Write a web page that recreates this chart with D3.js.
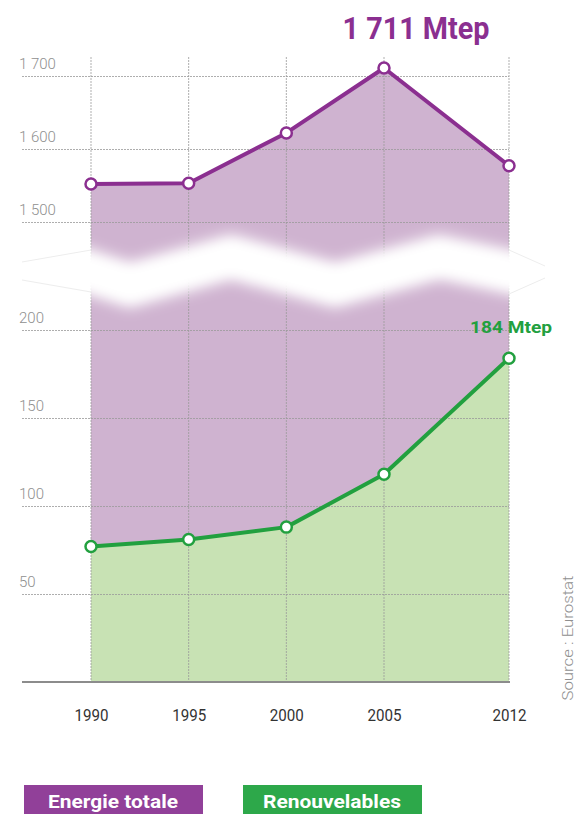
<!DOCTYPE html>
<html>
<head>
<meta charset="utf-8">
<script src="https://cdn.jsdelivr.net/npm/d3@7"></script>
<style>
  body { margin: 0; background: #fff; }
  svg text { font-family: "Roboto", "Liberation Sans", sans-serif; }
</style>
</head>
<body>
<div id="chart"></div>
<script>
// data (Mtep)
var years = [1990, 1995, 2000, 2005, 2012];
var totalValues = [1552, 1553, 1622, 1711, 1577];
var renewValues = [77, 81, 88, 118, 184];
var topTicks = [1500, 1600, 1700];
var lowTicks = [50, 100, 150, 200];
var legendLabels = ["Energie totale", "Renouvelables"];

var W = 578, H = 814;
var purple = "#8b2f90", purpleArea = "#cfb3d0", purpleBox = "#914099";
var green = "#22a03f", greenArea = "#c8e2b4", greenBox = "#2da84a";

var svg = d3.select("#chart")
  .append("svg")
    .attr("width", W)
    .attr("height", H);

var defs = svg.append("defs");
defs.append("filter")
    .attr("id", "soft")
    .attr("filterUnits", "userSpaceOnUse")
    .attr("x", 0).attr("y", 150)
    .attr("width", W).attr("height", 250)
  .append("feGaussianBlur")
    .attr("stdDeviation", 7);

// x: years are not evenly spaced in the original, so a piecewise scale
var x = d3.scaleLinear()
  .domain([1990, 2005, 2012])
  .range([91, 384, 509]);

// two y scales around the axis break
var yTop = d3.scaleLinear().domain([1500, 1700]).range([222, 76]);
var yLow = d3.scaleLinear().domain([0, 200]).range([682, 330]);

var data = years.map(function(y, i) {
  return {year: y, total: totalValues[i], renew: renewValues[i]};
});

var fmt = function(d) { return d3.format(",")(d).replace(/,/g, " "); };

// purple area (total)
svg.append("path")
  .datum(data)
  .attr("fill", purpleArea)
  .attr("d", d3.area()
    .x(function(d) { return x(d.year); })
    .y0(yLow(0))
    .y1(function(d) { return yTop(d.total); }));

// green area (renewables)
svg.append("path")
  .datum(data)
  .attr("fill", greenArea)
  .attr("d", d3.area()
    .x(function(d) { return x(d.year); })
    .y0(yLow(0))
    .y1(function(d) { return yLow(d.renew); }));

// horizontal grid + labels
function yAxis(scale, ticks) {
  var g = svg.append("g")
    .attr("transform", "translate(22,0)")
    .call(d3.axisLeft(scale)
      .tickValues(ticks)
      .tickSize(-(x(2012) - 22))
      .tickFormat(fmt));
  g.select(".domain").remove();
  g.selectAll("line")
    .attr("stroke", "#9a9a9a")
    .attr("stroke-width", 1)
    .attr("stroke-dasharray", "2,1")
    .attr("opacity", 0.8);
  g.selectAll("text")
    .attr("x", -3)
    .attr("dy", "-0.5em")
    .attr("text-anchor", "start")
    .attr("fill", "#8f8f8f")
    .style("font-size", "15px")
    .style("font-weight", "300");
}
yAxis(yTop, topTicks);
yAxis(yLow, lowTicks);

// vertical grid
svg.append("g")
  .selectAll("line")
  .data(years)
  .enter()
  .append("line")
    .attr("x1", function(d) { return x(d); })
    .attr("x2", function(d) { return x(d); })
    .attr("y1", 57)
    .attr("y2", yLow(0))
    .attr("stroke", "#9a9a9a")
    .attr("stroke-dasharray", "2,1")
    .attr("opacity", 0.8);

// axis break: blurred white zig-zag band
var wave = [[70, 266], [130, 285], [231, 257], [335, 285], [439, 257], [530, 276]];
svg.append("path")
  .attr("d", d3.line()(wave))
  .attr("fill", "none")
  .attr("stroke", "#fff")
  .attr("stroke-width", 44)
  .attr("filter", "url(#soft)");
svg.append("path")
  .attr("d", d3.line()(wave))
  .attr("fill", "none")
  .attr("stroke", "#fff")
  .attr("stroke-width", 18)
  .attr("filter", "url(#soft)");
// cover the overflow beyond the plot
svg.append("rect").attr("x", 0).attr("y", 226).attr("width", 90).attr("height", 80).attr("fill", "#fff");
svg.append("rect").attr("x", 510).attr("y", 226).attr("width", 68).attr("height", 80).attr("fill", "#fff");
// faint outline beyond the plot
[[[22, 262], [91, 250]], [[22, 280], [91, 292]], [[509, 250], [545, 266]], [[509, 294], [545, 278]]].forEach(function(p) {
  svg.append("path")
    .attr("d", d3.line()(p))
    .attr("stroke", "#ededed")
    .attr("fill", "none");
});

// baseline
svg.append("line")
  .attr("x1", 22).attr("x2", x(2012) + 1)
  .attr("y1", yLow(0)).attr("y2", yLow(0))
  .attr("stroke", "#8c8c8c")
  .attr("stroke-width", 2);

// x axis labels
var xg = svg.append("g")
  .attr("transform", "translate(0," + yLow(0) + ")")
  .call(d3.axisBottom(x).tickValues(years).tickSize(0).tickPadding(28).tickFormat(d3.format("d")));
xg.select(".domain").remove();
xg.selectAll("text")
  .attr("fill", "#333")
  .attr("textLength", 34)
  .attr("lengthAdjust", "spacingAndGlyphs")
  .style("font-size", "16px");

// lines + markers
function series(key, scale, color) {
  svg.append("path")
    .datum(data)
    .attr("fill", "none")
    .attr("stroke", color)
    .attr("stroke-width", 4)
    .attr("stroke-linejoin", "round")
    .attr("d", d3.line()
      .x(function(d) { return x(d.year); })
      .y(function(d) { return scale(d[key]); }));
  svg.append("g")
    .selectAll("circle")
    .data(data)
    .enter()
    .append("circle")
      .attr("cx", function(d) { return x(d.year); })
      .attr("cy", function(d) { return scale(d[key]); })
      .attr("r", 5.5)
      .attr("fill", "#fff")
      .attr("stroke", color)
      .attr("stroke-width", 2.5);
}
series("total", yTop, purple);
series("renew", yLow, green);

// annotations
svg.append("text")
  .attr("x", 416)
  .attr("y", 39)
  .attr("text-anchor", "middle")
  .attr("fill", purple)
  .attr("textLength", 147)
  .attr("lengthAdjust", "spacingAndGlyphs")
  .style("font-size", "31px")
  .style("font-weight", "bold")
  .text(fmt(totalValues[3]) + " Mtep");

svg.append("text")
  .attr("x", 511)
  .attr("y", 333)
  .attr("text-anchor", "middle")
  .attr("fill", green)
  .attr("textLength", 82)
  .attr("lengthAdjust", "spacingAndGlyphs")
  .style("font-size", "17px")
  .style("font-weight", "bold")
  .text(renewValues[4] + " Mtep");

// source
svg.append("text")
  .attr("transform", "translate(573,638) rotate(-90)")
  .attr("text-anchor", "middle")
  .attr("fill", "#8f8f8f")
  .attr("textLength", 125)
  .attr("lengthAdjust", "spacingAndGlyphs")
  .style("font-size", "15px")
  .style("font-weight", "300")
  .text("Source : Eurostat");

// legend
var legend = svg.append("g")
  .selectAll("g")
  .data(legendLabels)
  .enter()
  .append("g")
    .attr("transform", function(d, i) { return "translate(" + (24 + i * 219) + ",785)"; });
legend.append("rect")
  .attr("width", 179)
  .attr("height", 32)
  .attr("fill", function(d, i) { return i == 0 ? purpleBox : greenBox; });
legend.append("text")
  .attr("x", 89)
  .attr("y", 23)
  .attr("text-anchor", "middle")
  .attr("fill", "#fff")
  .attr("textLength", function(d, i) { return i == 0 ? 130 : 138; })
  .attr("lengthAdjust", "spacingAndGlyphs")
  .style("font-size", "19px")
  .style("font-weight", "bold")
  .text(function(d) { return d; });
</script>
</body>
</html>
